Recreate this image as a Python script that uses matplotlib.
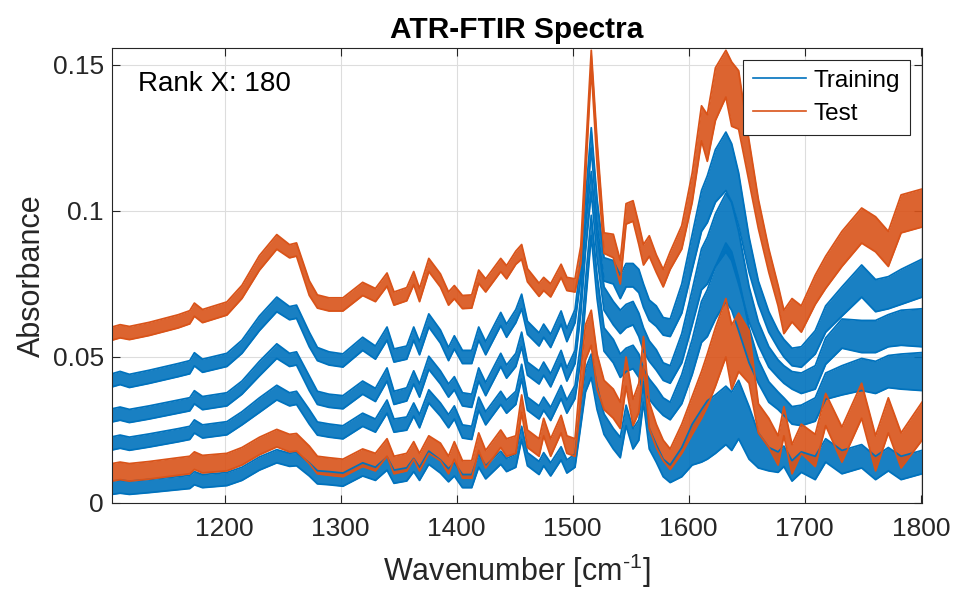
import numpy as np
import matplotlib
matplotlib.use('Agg')
import matplotlib.pyplot as plt

plt.rcParams['font.family'] = 'Liberation Sans'
plt.rcParams['mathtext.fontset'] = 'custom'
plt.rcParams['mathtext.rm'] = 'Liberation Sans'

#######################################
### data
#######################################

wavenumber = [
    1103, 1110, 1118, 1135, 1160, 1170, 1174, 1181, 1202, 1215,
    1230, 1245, 1256, 1262, 1273, 1280, 1290, 1302, 1319, 1330,
    1340, 1346, 1357, 1363, 1368, 1376, 1386, 1393, 1398, 1405,
    1413, 1419, 1425, 1438, 1443, 1451, 1456, 1461, 1471, 1475,
    1481, 1490, 1495, 1502, 1507, 1511, 1516, 1521, 1527, 1535,
    1541, 1546, 1552, 1557, 1561, 1566, 1572, 1578, 1584, 1594,
    1603, 1611, 1616, 1623, 1632, 1637, 1643, 1652, 1660, 1669,
    1677, 1682, 1689, 1697, 1709, 1718, 1732, 1749, 1761, 1772,
    1783, 1801]

# test set, upper bundle (centre of band)
test_high = [
    0.0580, 0.0588, 0.0582, 0.0596, 0.0622, 0.0636, 0.0662, 0.0640, 0.0666, 0.0723,
    0.0822, 0.0894, 0.0862, 0.0868, 0.0736, 0.0690, 0.0680, 0.0680, 0.0733, 0.0712,
    0.0765, 0.0700, 0.0715, 0.0770, 0.0712, 0.0815, 0.0762, 0.0700, 0.0722, 0.0688,
    0.0690, 0.0775, 0.0745, 0.0815, 0.0790, 0.0840, 0.0860, 0.0780, 0.0730, 0.0750,
    0.0728, 0.0795, 0.0750, 0.0745, 0.0850, 0.1150, 0.1520, 0.1200, 0.0890, 0.0880,
    0.0790, 0.0990, 0.1000, 0.0920, 0.0850, 0.0880, 0.0820, 0.0770, 0.0830, 0.0910,
    0.1080, 0.1300, 0.1250, 0.1400, 0.1470, 0.1400, 0.1380, 0.1170, 0.0990, 0.0830,
    0.0710, 0.0620, 0.0660, 0.0630, 0.0730, 0.0790, 0.0870, 0.0950, 0.0920, 0.0870,
    0.0990, 0.1010]

# training set, three middle bundles
train_1 = [
    0.0420, 0.0428, 0.0418, 0.0432, 0.0455, 0.0465, 0.0492, 0.0470, 0.0490, 0.0535,
    0.0615, 0.0680, 0.0650, 0.0655, 0.0560, 0.0510, 0.0495, 0.0488, 0.0545, 0.0515,
    0.0580, 0.0505, 0.0515, 0.0580, 0.0530, 0.0625, 0.0570, 0.0510, 0.0550, 0.0500,
    0.0500, 0.0580, 0.0530, 0.0630, 0.0590, 0.0640, 0.0690, 0.0600, 0.0560, 0.0590,
    0.0555, 0.0635, 0.0575, 0.0640, 0.0800, 0.1000, 0.1250, 0.1000, 0.0800, 0.0790,
    0.0740, 0.0780, 0.0780, 0.0760, 0.0710, 0.0660, 0.0640, 0.0605, 0.0600, 0.0700,
    0.0860, 0.1000, 0.1040, 0.1120, 0.1170, 0.1130, 0.1040, 0.0850, 0.0720, 0.0620,
    0.0560, 0.0530, 0.0500, 0.0500, 0.0550, 0.0630, 0.0690, 0.0760, 0.0710, 0.0720,
    0.0740, 0.0770]

train_2 = [
    0.0300, 0.0306, 0.0298, 0.0310, 0.0330, 0.0338, 0.0362, 0.0342, 0.0355, 0.0395,
    0.0460, 0.0520, 0.0490, 0.0495, 0.0410, 0.0360, 0.0350, 0.0345, 0.0395, 0.0370,
    0.0440, 0.0360, 0.0372, 0.0430, 0.0385, 0.0480, 0.0430, 0.0385, 0.0410, 0.0355,
    0.0350, 0.0440, 0.0390, 0.0490, 0.0450, 0.0490, 0.0560, 0.0460, 0.0430, 0.0460,
    0.0420, 0.0500, 0.0440, 0.0500, 0.0680, 0.0900, 0.1100, 0.0880, 0.0700, 0.0650,
    0.0620, 0.0640, 0.0650, 0.0610, 0.0560, 0.0520, 0.0490, 0.0450, 0.0440, 0.0530,
    0.0670, 0.0800, 0.0830, 0.0900, 0.0960, 0.0930, 0.0840, 0.0680, 0.0580, 0.0500,
    0.0460, 0.0440, 0.0420, 0.0410, 0.0430, 0.0520, 0.0580, 0.0570, 0.0570, 0.0590,
    0.0600, 0.0600]

train_3 = [
    0.0204, 0.0210, 0.0203, 0.0214, 0.0232, 0.0240, 0.0262, 0.0245, 0.0256, 0.0290,
    0.0335, 0.0378, 0.0355, 0.0360, 0.0295, 0.0255, 0.0248, 0.0242, 0.0285, 0.0265,
    0.0330, 0.0265, 0.0272, 0.0320, 0.0280, 0.0365, 0.0320, 0.0280, 0.0310, 0.0245,
    0.0240, 0.0340, 0.0290, 0.0360, 0.0330, 0.0360, 0.0450, 0.0340, 0.0310, 0.0340,
    0.0305, 0.0380, 0.0330, 0.0380, 0.0520, 0.0720, 0.0950, 0.0740, 0.0560, 0.0520,
    0.0470, 0.0490, 0.0500, 0.0470, 0.0420, 0.0390, 0.0360, 0.0330, 0.0315, 0.0390,
    0.0500, 0.0620, 0.0650, 0.0720, 0.0790, 0.0760, 0.0680, 0.0540, 0.0450, 0.0380,
    0.0350, 0.0330, 0.0300, 0.0300, 0.0320, 0.0400, 0.0420, 0.0440, 0.0430, 0.0450,
    0.0450, 0.0450]

# test set, lower bundle
test_low = [
    0.0105, 0.0110, 0.0105, 0.0112, 0.0125, 0.0130, 0.0145, 0.0133, 0.0140, 0.0160,
    0.0195, 0.0222, 0.0205, 0.0208, 0.0165, 0.0130, 0.0125, 0.0120, 0.0155, 0.0140,
    0.0190, 0.0130, 0.0140, 0.0180, 0.0140, 0.0200, 0.0175, 0.0130, 0.0180, 0.0115,
    0.0115, 0.0210, 0.0150, 0.0220, 0.0190, 0.0200, 0.0340, 0.0220, 0.0190, 0.0260,
    0.0190, 0.0270, 0.0200, 0.0190, 0.0400, 0.0550, 0.0600, 0.0450, 0.0370, 0.0340,
    0.0300, 0.0450, 0.0310, 0.0360, 0.0520, 0.0300, 0.0230, 0.0180, 0.0150, 0.0220,
    0.0300, 0.0370, 0.0420, 0.0500, 0.0600, 0.0500, 0.0550, 0.0500, 0.0290, 0.0240,
    0.0180, 0.0280, 0.0150, 0.0220, 0.0180, 0.0320, 0.0200, 0.0350, 0.0170, 0.0300,
    0.0180, 0.0280]

# training set, lowest bundle
train_4 = [
    0.0052, 0.0056, 0.0052, 0.0058, 0.0068, 0.0072, 0.0085, 0.0075, 0.0082, 0.0100,
    0.0135, 0.0160, 0.0148, 0.0150, 0.0115, 0.0088, 0.0085, 0.0080, 0.0115, 0.0100,
    0.0135, 0.0090, 0.0098, 0.0130, 0.0100, 0.0155, 0.0125, 0.0095, 0.0115, 0.0075,
    0.0075, 0.0145, 0.0105, 0.0155, 0.0130, 0.0145, 0.0240, 0.0150, 0.0120, 0.0150,
    0.0115, 0.0170, 0.0125, 0.0145, 0.0300, 0.0420, 0.0470, 0.0360, 0.0270, 0.0220,
    0.0190, 0.0300, 0.0220, 0.0250, 0.0380, 0.0220, 0.0170, 0.0120, 0.0100, 0.0140,
    0.0200, 0.0230, 0.0250, 0.0270, 0.0300, 0.0280, 0.0320, 0.0240, 0.0180, 0.0150,
    0.0140, 0.0160, 0.0110, 0.0140, 0.0120, 0.0180, 0.0140, 0.0160, 0.0120, 0.0150,
    0.0120, 0.0140]

# band widths (spread of the spectra inside each bundle)
test_high_w = [
    0.0045, 0.0045, 0.0045, 0.0045, 0.0045, 0.0045, 0.0045, 0.0045, 0.0045, 0.0045,
    0.0050, 0.0050, 0.0045, 0.0045, 0.0050, 0.0045, 0.0045, 0.0045, 0.0045, 0.0045,
    0.0045, 0.0045, 0.0045, 0.0045, 0.0045, 0.0045, 0.0045, 0.0045, 0.0045, 0.0045,
    0.0045, 0.0045, 0.0045, 0.0045, 0.0045, 0.0045, 0.0050, 0.0045, 0.0045, 0.0045,
    0.0045, 0.0045, 0.0045, 0.0045, 0.0060, 0.0080, 0.0060, 0.0080, 0.0070, 0.0080,
    0.0080, 0.0070, 0.0070, 0.0070, 0.0070, 0.0070, 0.0060, 0.0060, 0.0060, 0.0080,
    0.0100, 0.0120, 0.0160, 0.0180, 0.0160, 0.0220, 0.0200, 0.0140, 0.0100, 0.0080,
    0.0070, 0.0080, 0.0080, 0.0090, 0.0100, 0.0110, 0.0120, 0.0120, 0.0120, 0.0120,
    0.0130, 0.0130]

train_w = [
    0.0045, 0.0045, 0.0045, 0.0045, 0.0045, 0.0045, 0.0045, 0.0045, 0.0045, 0.0045,
    0.0050, 0.0050, 0.0045, 0.0045, 0.0050, 0.0045, 0.0045, 0.0045, 0.0045, 0.0045,
    0.0045, 0.0045, 0.0045, 0.0045, 0.0045, 0.0045, 0.0045, 0.0045, 0.0045, 0.0045,
    0.0045, 0.0045, 0.0045, 0.0045, 0.0045, 0.0045, 0.0050, 0.0045, 0.0045, 0.0045,
    0.0045, 0.0045, 0.0045, 0.0045, 0.0060, 0.0080, 0.0070, 0.0080, 0.0080, 0.0080,
    0.0080, 0.0080, 0.0080, 0.0080, 0.0080, 0.0070, 0.0070, 0.0060, 0.0060, 0.0100,
    0.0120, 0.0140, 0.0160, 0.0180, 0.0200, 0.0200, 0.0180, 0.0120, 0.0080, 0.0070,
    0.0060, 0.0060, 0.0060, 0.0070, 0.0080, 0.0090, 0.0100, 0.0110, 0.0110, 0.0110,
    0.0120, 0.0130]

test_low_w = [
    0.0060, 0.0060, 0.0060, 0.0060, 0.0060, 0.0060, 0.0060, 0.0060, 0.0060, 0.0060,
    0.0060, 0.0060, 0.0060, 0.0060, 0.0060, 0.0060, 0.0060, 0.0060, 0.0060, 0.0060,
    0.0060, 0.0060, 0.0060, 0.0060, 0.0060, 0.0060, 0.0060, 0.0060, 0.0060, 0.0060,
    0.0060, 0.0060, 0.0060, 0.0060, 0.0060, 0.0060, 0.0060, 0.0060, 0.0060, 0.0060,
    0.0060, 0.0060, 0.0060, 0.0060, 0.0100, 0.0120, 0.0120, 0.0120, 0.0100, 0.0100,
    0.0090, 0.0100, 0.0090, 0.0100, 0.0100, 0.0090, 0.0080, 0.0070, 0.0070, 0.0100,
    0.0130, 0.0160, 0.0180, 0.0200, 0.0200, 0.0220, 0.0200, 0.0180, 0.0100, 0.0100,
    0.0100, 0.0100, 0.0100, 0.0100, 0.0110, 0.0110, 0.0120, 0.0120, 0.0120, 0.0120,
    0.0120, 0.0130]

train_low_w = [
    0.0045, 0.0045, 0.0045, 0.0045, 0.0045, 0.0045, 0.0045, 0.0045, 0.0045, 0.0045,
    0.0045, 0.0045, 0.0045, 0.0045, 0.0045, 0.0045, 0.0045, 0.0045, 0.0045, 0.0045,
    0.0045, 0.0045, 0.0045, 0.0045, 0.0045, 0.0045, 0.0045, 0.0045, 0.0045, 0.0045,
    0.0045, 0.0045, 0.0045, 0.0045, 0.0045, 0.0045, 0.0045, 0.0045, 0.0045, 0.0045,
    0.0045, 0.0045, 0.0045, 0.0045, 0.0070, 0.0080, 0.0080, 0.0080, 0.0070, 0.0070,
    0.0070, 0.0070, 0.0070, 0.0070, 0.0070, 0.0070, 0.0060, 0.0060, 0.0060, 0.0100,
    0.0140, 0.0180, 0.0200, 0.0200, 0.0200, 0.0200, 0.0200, 0.0180, 0.0120, 0.0080,
    0.0070, 0.0070, 0.0070, 0.0070, 0.0080, 0.0080, 0.0080, 0.0080, 0.0080, 0.0080,
    0.0080, 0.0080]

xticks = [1200, 1300, 1400, 1500, 1600, 1700, 1800]
yticks = [0, 0.05, 0.1, 0.15]
ytick_labels = ['0', '0.05', '0.1', '0.15']

blue = '#0072BD'
orange = '#D95319'

#######################################
### plot
#######################################

fig = plt.figure(figsize=(9.56, 5.92), dpi=100)
ax = fig.add_axes([112/956, 89/592, 810/956, 455/592])

wn = np.array(wavenumber)


def bundle(centre, width, colour, label=None):
    c = np.array(centre)
    w = np.array(width)
    lo = c - w / 2
    hi = c + w / 2
    ax.fill_between(wn, lo, hi, color=colour, alpha=0.9, lw=0)
    ax.plot(wn, lo, color=colour, lw=1.3)
    ax.plot(wn, hi, color=colour, lw=1.3, label=label)


# training first, test drawn on top
bundle(train_1, train_w, blue, 'Training')
bundle(train_2, train_w, blue)
bundle(train_3, train_w, blue)
bundle(train_4, train_low_w, blue)
bundle(test_high, test_high_w, orange, 'Test')
bundle(test_low, test_low_w, orange)

ax.set_xlim(1103, 1801)
ax.set_ylim(0, 0.1558)
ax.set_xticks(xticks)
ax.set_yticks(yticks)
ax.set_yticklabels(ytick_labels)

ax.grid(True, color='#dddddd', lw=0.8)
ax.set_axisbelow(True)
ax.tick_params(direction='in', length=6, top=True, right=True,
               labelsize=19, color='#262626', labelcolor='#262626')
ax.tick_params(axis='x', pad=10)
ax.tick_params(axis='y', pad=6)
for s in ax.spines.values():
    s.set_color('#262626')
    s.set_linewidth(0.8)

ax.set_title('ATR-FTIR Spectra', fontsize=21.5, fontweight='bold', pad=7)
ax.set_xlabel(r'Wavenumber [cm$^{\text{-}1}$]', fontsize=22, color='#262626', labelpad=8)
ax.set_ylabel('Absorbance', fontsize=22, color='#262626', labelpad=4)

ax.text(0.032, 0.92, 'Rank X: 180', transform=ax.transAxes,
        fontsize=20, va='center', ha='left')

leg = ax.legend(loc='upper right', fontsize=17.5, fancybox=False, framealpha=1,
                edgecolor='#262626', borderaxespad=0.5, handlelength=2.2,
                handletextpad=0.3, labelspacing=0.45, borderpad=0.4)
leg.get_frame().set_linewidth(0.8)
for h in leg.get_lines():
    h.set_linewidth(1.2)

fig.savefig('out.png', dpi=100)
